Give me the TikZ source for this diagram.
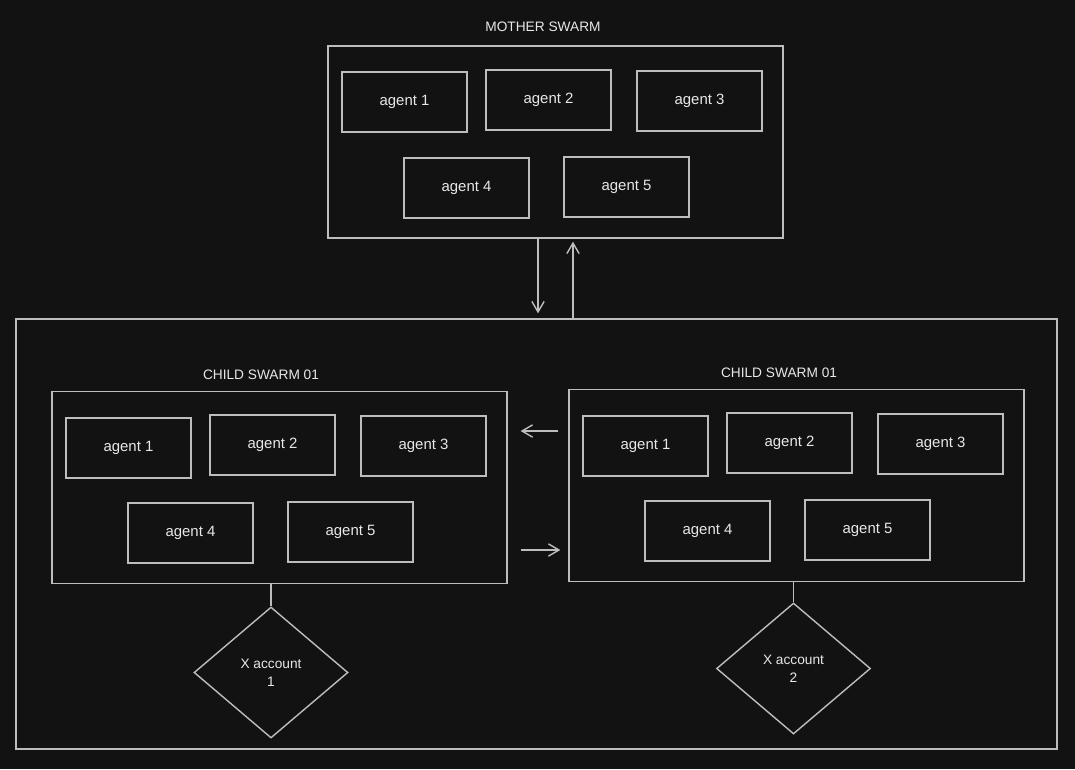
\documentclass[tikz,border=0pt]{standalone}
\usepackage{fontspec}
\setmainfont{Liberation Sans}
\usetikzlibrary{shapes.geometric,arrows.meta}
\definecolor{bg}{HTML}{121212}
\definecolor{ink}{HTML}{BDBDBD}
\definecolor{txt}{HTML}{E8E8E8}
\begin{document}
\begin{tikzpicture}[x=0.02cm, y=-0.02cm, line width=0.8pt, draw=ink,
    every node/.style={font=\fontsize{7.8}{10}\selectfont, text=txt},
    agent/.style={draw=ink, minimum width=2.5cm, minimum height=1.2cm, inner sep=0pt, font=\fontsize{8.5}{10}\selectfont},
    swarm/.style={draw=ink, minimum width=9.1cm, minimum height=3.84cm, inner sep=0pt},
    account/.style={draw=ink, diamond, minimum width=3.08cm, minimum height=2.62cm, inner sep=0pt, align=center},
    flow/.style={draw=ink, -{Straight Barb[length=6pt,width=7pt]}}]{
    \fill [bg] (0,0) rectangle (1075,769);
    \useasboundingbox (0,0) rectangle (1075,769);
    \node [draw=ink, minimum width=20.82cm, minimum height=8.6cm, inner sep=0pt] (outer) at (536.5,534) {};
    \node (mtitle) at (543,27) {MOTHER SWARM};
    \node [swarm] (mother) at (555.5,142) {};
    \node [agent] (m1) at (404.5,102) {agent 1};
    \node [agent] (m2) at (548.5,100) {agent 2};
    \node [agent] (m3) at (699.5,101) {agent 3};
    \node [agent] (m4) at (466.5,188) {agent 4};
    \node [agent] (m5) at (626.5,187) {agent 5};
    \node (ltitle) at (261,375) {CHILD SWARM 01};
    \node [swarm] (left) at (279.5,487.5) {};
    \node [agent] (l1) at (128.5,448) {agent 1};
    \node [agent] (l2) at (272.5,445) {agent 2};
    \node [agent] (l3) at (423.5,446) {agent 3};
    \node [agent] (l4) at (190.5,533) {agent 4};
    \node [agent] (l5) at (350.5,532) {agent 5};
    \node (rtitle) at (779,373) {CHILD SWARM 01};
    \node [swarm] (right) at (796.5,485.5) {};
    \node [agent] (r1) at (645.5,446) {agent 1};
    \node [agent] (r2) at (789.5,443) {agent 2};
    \node [agent] (r3) at (940.5,444) {agent 3};
    \node [agent] (r4) at (707.5,531) {agent 4};
    \node [agent] (r5) at (867.5,530) {agent 5};
    \node [account] (acc1) at (271,672.5) {X account\\1};
    \node [account] (acc2) at (793.5,668.5) {X account\\2};
    \coordinate (dn) at (538,0);
    \coordinate (up) at (573,0);
    \coordinate (back) at (0,431);
    \coordinate (fwd) at (0,550);
    \draw [flow, shorten >=0.1cm] (mother.south -| dn) -- (outer.north -| dn);
    \draw [flow, shorten >=0.06cm] (outer.north -| up) -- (mother.south -| up);
    \draw [flow, shorten <=0.2cm, shorten >=0.26cm] (right.west |- back) -- (left.east |- back);
    \draw [flow, shorten <=0.26cm, shorten >=0.16cm] (left.east |- fwd) -- (right.west |- fwd);
    \draw [ink] (acc1.north |- left.south) -- (acc1.north);
    \draw [ink] (acc2.north |- right.south) -- (acc2.north);
    }
\end{tikzpicture}
\end{document}
